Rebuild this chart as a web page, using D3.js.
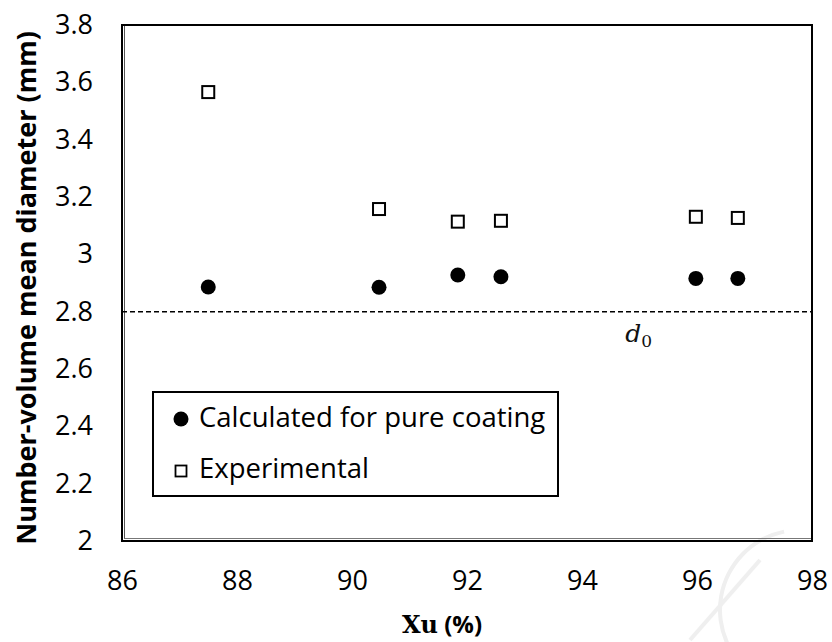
<!DOCTYPE html>
<html>
<head>
<meta charset="utf-8">
<script src="https://cdn.jsdelivr.net/npm/d3@7"></script>
<style>
  body { margin: 0; background: #fff; }
  .tick text { font-family: "Open Sans", sans-serif; font-size: 27px; fill: #000; }
</style>
</head>
<body>
<div id="chart"></div>
<script>
// data
const xu = [87.5, 90.47, 91.84, 92.59, 95.98, 96.71];
const calculated = [2.886, 2.885, 2.928, 2.922, 2.916, 2.916];
const experimental = [3.566, 3.158, 3.114, 3.117, 3.131, 3.127];
const d0 = 2.8;
const xTicks = [86, 88, 90, 92, 94, 96, 98];
const yTicks = [2, 2.2, 2.4, 2.6, 2.8, 3, 3.2, 3.4, 3.6, 3.8];
const legendLabels = ["Calculated for pure coating", "Experimental"];

let margin = {top: 25, right: 20, bottom: 101, left: 122};
let width = 832 - margin.left - margin.right,
    height = 642 - margin.top - margin.bottom;

let svg = d3.select("#chart").append("svg")
    .attr("width", 832)
    .attr("height", 642);

// faint watermark strokes in the lower right corner
svg.append("path")
    .attr("transform", "translate(800,610)")
    .attr("d", d3.arc()({innerRadius: 78, outerRadius: 82, startAngle: -2.6, endAngle: -0.2}))
    .attr("fill", "#efefef");
svg.append("line")
    .attr("x1", 690).attr("y1", 640).attr("x2", 760).attr("y2", 560)
    .attr("stroke", "#efefef").attr("stroke-width", 4);

let g = svg.append("g")
    .attr("transform", "translate(" + margin.left + "," + margin.top + ")");

// scales
let xScale = d3.scaleLinear().domain([86, 98]).range([0, width]);
let yScale = d3.scaleLinear().domain([2, 3.8]).range([height, 0]);

// x axis, no tick marks
g.append("g")
    .attr("transform", "translate(0," + height + ")")
    .call(d3.axisBottom(xScale).tickValues(xTicks).tickSize(0).tickPadding(30).tickFormat(d3.format("d")))
    .call(a => a.select(".domain").remove());

// y axis
g.append("g")
    .call(d3.axisLeft(yScale).tickValues(yTicks).tickSize(0).tickPadding(29).tickFormat(d => d3.format("")(+d.toFixed(1))))
    .call(a => a.select(".domain").remove());

// plot frame: heavy top/right, doubled thin left/bottom
g.append("rect")
    .attr("x", 0).attr("y", 0)
    .attr("width", width).attr("height", height)
    .attr("fill", "none")
    .attr("stroke", "#000")
    .attr("stroke-width", 2);
g.append("line")
    .attr("x1", 2.5).attr("x2", 2.5).attr("y1", 1).attr("y2", height - 2)
    .attr("stroke", "#555").attr("stroke-width", 1);
g.append("line")
    .attr("x1", 2.5).attr("x2", width - 1).attr("y1", height - 2.5).attr("y2", height - 2.5)
    .attr("stroke", "#777").attr("stroke-width", 1);

// d0 reference line
g.append("line")
    .attr("x1", 0).attr("x2", width)
    .attr("y1", yScale(d0)).attr("y2", yScale(d0))
    .attr("stroke", "#000")
    .attr("stroke-width", 1.5)
    .attr("stroke-dasharray", "5,3");

let d0Label = g.append("text")
    .attr("x", xScale(94.75))
    .attr("y", yScale(d0) + 30)
    .attr("font-family", "DejaVu Serif, serif")
    .attr("font-size", "25px")
    .attr("fill", "#111");
d0Label.append("tspan").attr("font-style", "italic").text("d");
d0Label.append("tspan").attr("font-size", "17px").attr("dy", 5).text("0");

// calculated points
g.append("g")
    .selectAll("circle")
    .data(xu)
    .enter()
    .append("circle")
    .attr("cx", (d, i) => xScale(d))
    .attr("cy", (d, i) => yScale(calculated[i]))
    .attr("r", 7.5)
    .attr("fill", "#000");

// experimental points
let sq = 12;
g.append("g")
    .selectAll("rect")
    .data(xu)
    .enter()
    .append("rect")
    .attr("x", d => xScale(d) - sq / 2)
    .attr("y", (d, i) => yScale(experimental[i]) - sq / 2)
    .attr("width", sq)
    .attr("height", sq)
    .attr("fill", "#fff")
    .attr("stroke", "#000")
    .attr("stroke-width", 2);

// legend
let legend = svg.append("g").attr("transform", "translate(153,392)");
legend.append("rect")
    .attr("width", 405).attr("height", 104)
    .attr("fill", "#fff")
    .attr("stroke", "#000")
    .attr("stroke-width", 2);
legend.append("circle").attr("cx", 28).attr("cy", 27).attr("r", 7.5).attr("fill", "#000");
legend.append("rect").attr("x", 22.5).attr("y", 73.5).attr("width", 11).attr("height", 11)
    .attr("fill", "#fff").attr("stroke", "#000").attr("stroke-width", 1.8);
legend.selectAll("text.leg")
    .data(legendLabels)
    .enter()
    .append("text")
    .attr("class", "leg")
    .attr("x", 46)
    .attr("y", (d, i) => 35 + i * 51)
    .attr("font-family", "Open Sans, sans-serif")
    .attr("font-size", "27.5px")
    .attr("fill", "#000")
    .text(d => d);

// y axis label
svg.append("text")
    .attr("transform", "translate(36,288) rotate(-90)")
    .attr("text-anchor", "middle")
    .attr("font-family", "Open Sans, sans-serif")
    .attr("font-weight", "bold")
    .attr("font-size", "27px")
    .attr("fill", "#000")
    .text("Number-volume mean diameter (mm)");

// x axis label
let xLab = svg.append("text")
    .attr("x", 442)
    .attr("y", 633)
    .attr("text-anchor", "middle")
    .attr("font-weight", "bold")
    .attr("font-size", "24px")
    .attr("fill", "#000");
xLab.append("tspan").attr("font-family", "DejaVu Serif, serif").text("Xu");
xLab.append("tspan").attr("font-family", "Open Sans, sans-serif").text(" (%)");
</script>
</body>
</html>
